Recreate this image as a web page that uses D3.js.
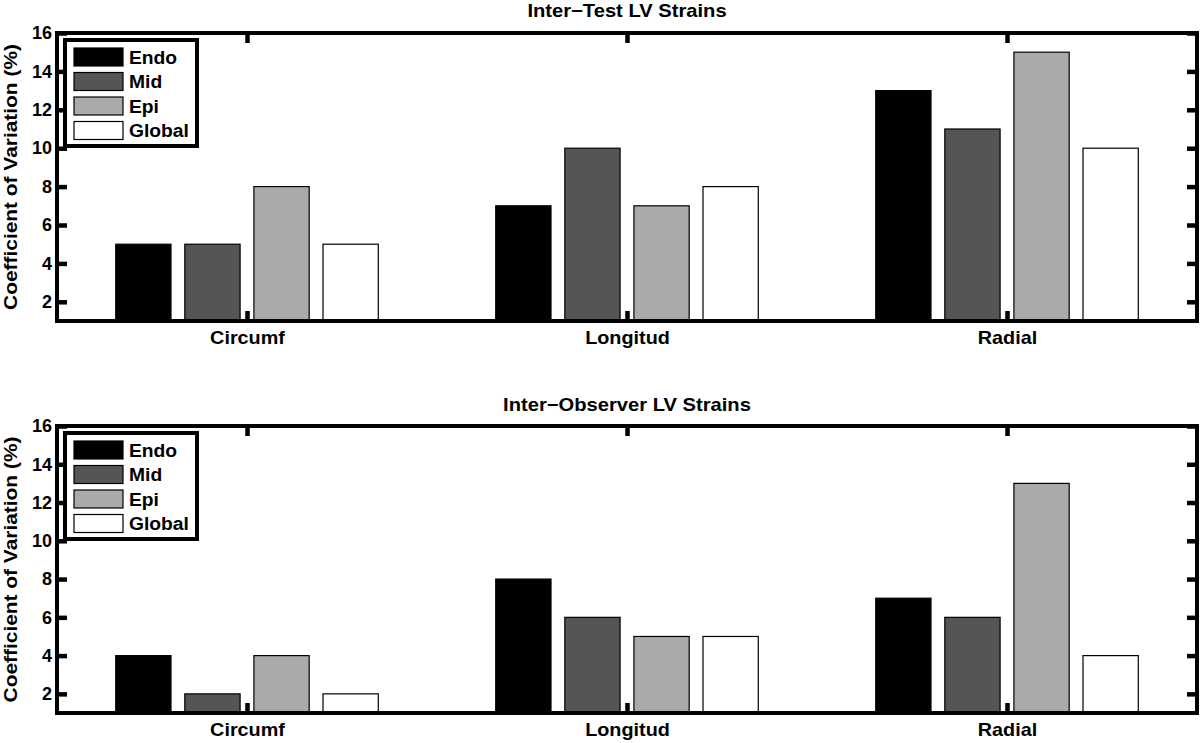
<!DOCTYPE html>
<html><head><meta charset="utf-8">
<script src="https://cdn.jsdelivr.net/npm/d3@7"></script>
<style>
body{margin:0;background:#fff;}
svg{display:block;font-family:"Liberation Sans",Arial,Helvetica,sans-serif;font-weight:bold;}
</style></head><body>
<svg id="c" width="1200" height="743"></svg>
<script>
const categories = ["Circumf","Longitud","Radial"];
const seriesNames = ["Endo","Mid","Epi","Global"];
const seriesColors = ["#000000","#555555","#aaaaaa","#ffffff"];
const yTicks = [2,4,6,8,10,12,14,16];
const titles = ["Inter\u2212Test LV Strains","Inter\u2212Observer LV Strains"];
const yLabel = "Coefficient of Variation (%)";
// values[series][category]
const interTest = [
  [5,7,13],   // Endo
  [5,10,11],  // Mid
  [8,7,15],   // Epi
  [5,8,10]    // Global
];
const interObserver = [
  [4,8,7],
  [2,6,6],
  [4,5,13],
  [2,5,4]
];

const svg = d3.select("#c");
const panels = [
  {data: interTest, title: titles[0], top: 33, bottom: 321, titleY: 17},
  {data: interObserver, title: titles[1], top: 426, bottom: 713, titleY: 411}
];
const L = 57, R = 1197;
const nS = seriesNames.length;
const groupWidth = Math.min(0.8, nS/(nS+1.5));
const slot = groupWidth/nS;
const barW = slot*0.8;
const FF = "'Liberation Sans',Arial,sans-serif";

panels.forEach(p => {
  const g = svg.append("g");
  const x = d3.scaleLinear().domain([0.5, 3.5]).range([L, R]);
  const y = d3.scaleLinear().domain([1, 16]).range([p.bottom, p.top]);

  // bars
  p.data.forEach((vals, s) => {
    vals.forEach((v, c) => {
      const center = (c+1) - groupWidth/2 + slot*(s+0.5);
      g.append("rect")
        .attr("x", x(center - barW/2))
        .attr("width", x(center + barW/2) - x(center - barW/2))
        .attr("y", y(v))
        .attr("height", y(1) - y(v))
        .attr("fill", seriesColors[s])
        .attr("stroke", "#000").attr("stroke-width", 1.2);
    });
  });

  // axes
  const tickLen = 10;
  const ax = g.append("g").attr("transform", `translate(${L},0)`)
    .call(d3.axisLeft(y).tickValues(yTicks).tickSize(-tickLen).tickPadding(5));
  ax.select(".domain").remove();
  ax.selectAll("line").attr("stroke","#000").attr("stroke-width",4.5);
  ax.selectAll("text").attr("font-size",18).attr("font-weight","bold").attr("fill","#000")
    .attr("font-family",FF);

  const axR = g.append("g").attr("transform", `translate(${R},0)`)
    .call(d3.axisRight(y).tickValues(yTicks).tickSize(-tickLen).tickFormat(""));
  axR.select(".domain").remove();
  axR.selectAll("line").attr("stroke","#000").attr("stroke-width",4.5);

  const axB = g.append("g").attr("transform", `translate(0,${p.bottom})`)
    .call(d3.axisBottom(x).tickValues([1,2,3]).tickSize(-tickLen).tickPadding(10)
      .tickFormat(d => categories[d-1]));
  axB.select(".domain").remove();
  axB.selectAll("line").attr("stroke","#000").attr("stroke-width",4.5);
  axB.selectAll("text").attr("font-size",18).attr("font-weight","bold").attr("fill","#000")
    .attr("font-family",FF).attr("transform","scale(1.1,1)");

  const axT = g.append("g").attr("transform", `translate(0,${p.top})`)
    .call(d3.axisTop(x).tickValues([1,2,3]).tickSize(-tickLen).tickFormat(""));
  axT.select(".domain").remove();
  axT.selectAll("line").attr("stroke","#000").attr("stroke-width",4.5);

  // box
  g.append("rect").attr("x", L).attr("y", p.top).attr("width", R-L).attr("height", p.bottom-p.top)
    .attr("fill","none").attr("stroke","#000").attr("stroke-width",4);

  // title
  g.append("text").attr("transform", `translate(${(L+R)/2},${p.titleY}) scale(1.12,1)`)
    .attr("text-anchor","middle").attr("font-size",18).text(p.title);

  // y label
  g.append("text").attr("transform", `translate(17,${(p.top+p.bottom)/2}) rotate(-90) scale(1.1,1)`)
    .attr("text-anchor","middle").attr("font-size",19).text(yLabel);

  // legend
  const lx = 65, ly = p.top + 7, lw = 132, lh = 106;
  const leg = g.append("g");
  leg.append("rect").attr("x", lx).attr("y", ly).attr("width", lw).attr("height", lh)
    .attr("fill","#fff").attr("stroke","#000").attr("stroke-width",4);
  seriesNames.forEach((n, i) => {
    const cy = ly + 17 + i*24.5;
    leg.append("rect").attr("x", lx+9).attr("y", cy-9).attr("width", 49).attr("height", 18)
      .attr("fill", seriesColors[i]).attr("stroke","#000").attr("stroke-width",1.2);
    leg.append("text").attr("transform", `translate(${lx+64},${cy+6.5}) scale(1.07,1)`)
      .attr("font-size",18).text(n);
  });
});
</script>
</body></html>
